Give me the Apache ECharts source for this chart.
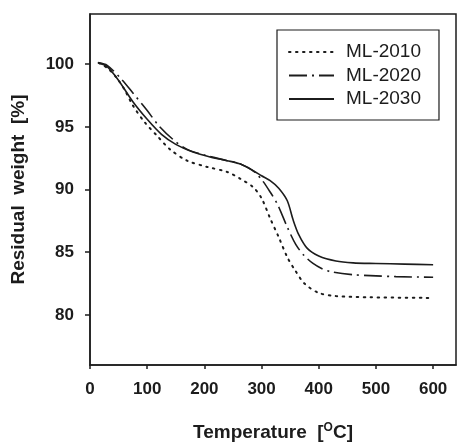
<!DOCTYPE html>
<html>
<head>
<meta charset="utf-8">
<script src="https://cdn.jsdelivr.net/npm/echarts@6/dist/echarts.min.js"></script>
<style>html,body{margin:0;padding:0;background:#fff}#c{width:457px;height:443px}</style>
</head>
<body>
<div id="c"></div>
<script>
var seriesNames = ['ML-2010', 'ML-2020', 'ML-2030'];
var ml2010 = [[15,100.1],[30,99.7],[45,99.0],[60,98.0],[75,96.7],[95,95.4],[117,94.3],[140,93.2],[170,92.3],[205,91.8],[240,91.4],[263,90.85],[285,90.2],[300,89.3],[315,87.7],[330,86.2],[345,84.6],[358,83.6],[375,82.5],[400,81.75],[430,81.5],[490,81.4],[600,81.35]];
var ml2020 = [[15,100.1],[30,99.9],[55,98.8],[75,97.7],[100,96.3],[120,95.1],[145,94.0],[170,93.2],[200,92.75],[240,92.3],[265,92.0],[285,91.5],[300,90.8],[315,89.8],[328,88.8],[345,87.0],[360,85.6],[375,84.7],[390,84.1],[405,83.7],[420,83.45],[460,83.2],[490,83.13],[535,83.05],[600,83.0]];
var ml2030 = [[15,100.1],[30,99.8],[50,98.7],[75,97.0],[100,95.6],[125,94.4],[150,93.6],[180,93.0],[210,92.6],[240,92.3],[265,92.0],[285,91.5],[300,91.1],[315,90.7],[330,90.1],[345,89.1],[355,87.6],[365,86.4],[380,85.3],[400,84.7],[430,84.3],[460,84.15],[500,84.1],[550,84.05],[600,84.0]];
var xTicks = [0,100,200,300,400,500,600];
var yTicks = [80,85,90,95,100];

var chart = echarts.init(document.getElementById('c'), null, {renderer:'canvas'});
var ink = '#1c1c1c';
var font = '"Liberation Sans", Arial, sans-serif';
var styles = [
  {color: ink, width: 2, type: [1.5, 5.5], cap: 'round'},
  {color: ink, width: 1.6, type: [18, 5, 2, 5]},
  {color: ink, width: 1.6, type: 'solid'}
];
var allData = [ml2010, ml2020, ml2030];
chart.setOption({
  animation: false,
  backgroundColor: '#fff',
  grid: {left: 90, right: 1, top: 14, bottom: 78, containLabel: false, outerBoundsMode: 'none',
    show: true, borderColor: ink, borderWidth: 1.5, backgroundColor: 'transparent'},
  legend: {
    orient: 'vertical', left: 277, top: 30,
    data: seriesNames,
    itemWidth: 45, itemHeight: 14, itemGap: 3.5,
    padding: [12, 18, 11, 11],
    borderColor: ink, borderWidth: 1.2,
    itemStyle: {opacity: 0},
    textStyle: {fontFamily: font, fontSize: 19, color: ink, lineHeight: 20, padding: [0,0,0,7]}
  },
  xAxis: {
    type: 'value', min: 0, max: 640, interval: 100,
    name: 'Temperature  [{sup|O}C]', nameLocation: 'middle', nameGap: 57,
    nameTextStyle: {fontFamily: font, fontSize: 19, fontWeight: 'bold', color: ink,
      rich: {sup: {fontFamily: font, fontSize: 12, fontWeight: 'bold', color: ink, verticalAlign: 'top', padding: [0,0,10,0]}}},
    axisLine: {show: true, lineStyle: {color: ink, width: 1.5}},
    axisTick: {show: true, inside: false, length: 4, lineStyle: {color: ink, width: 1.5}},
    splitLine: {show: false},
    axisLabel: {fontFamily: font, fontSize: 17, fontWeight: 'bold', color: ink, margin: 16, showMaxLabel: false,
      formatter: function(v){ return xTicks.indexOf(v) >= 0 ? String(v) : ''; }}
  },
  yAxis: {
    type: 'value', min: 76, max: 104, splitNumber: 6,
    name: 'Residual  weight  [%]', nameLocation: 'middle', nameGap: 62,
    nameTextStyle: {fontFamily: font, fontSize: 19, fontWeight: 'bold', color: ink},
    axisLine: {show: true, lineStyle: {color: ink, width: 1.5}},
    axisTick: {show: true, inside: false, length: 5, lineStyle: {color: ink, width: 1.5}},
    splitLine: {show: false},
    axisLabel: {fontFamily: font, fontSize: 17, fontWeight: 'bold', color: ink, margin: 16, showMinLabel: false, showMaxLabel: false,
      formatter: function(v){ return yTicks.indexOf(v) >= 0 ? String(v) : ''; }}
  },
  series: allData.map(function(d, i){
    return {name: seriesNames[i], type: 'line', data: d, symbol: 'none', showSymbol: false, smooth: 0.3,
      lineStyle: styles[i], itemStyle: {color: ink}};
  })
});
</script>
</body>
</html>
